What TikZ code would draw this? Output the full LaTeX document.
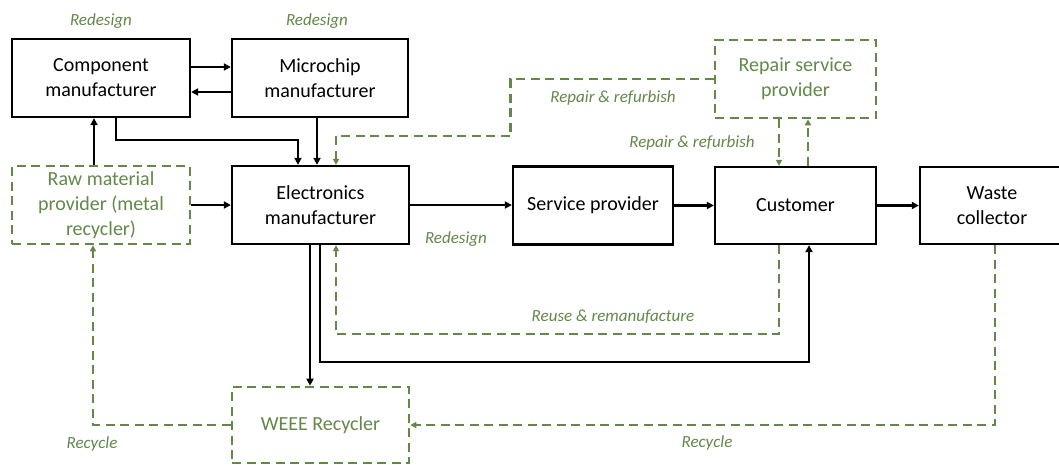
\documentclass[tikz,border=0pt]{standalone}
\usepackage{fontspec}
\setmainfont{Carlito}
\usetikzlibrary{arrows.meta}
\definecolor{loopgreen}{HTML}{638849}
\tikzset{
  actor/.style={draw=black, line width=2.3pt, inner sep=0pt, align=center,
    font=\fontsize{20}{25}\selectfont},
  optactor/.style={draw=loopgreen, text=loopgreen, line width=2.6pt,
    dash pattern=on 9pt off 5.5pt, inner sep=0pt, align=center,
    font=\fontsize{20}{25}\selectfont},
  flow/.style={draw=black, line width=2.1pt,
    -{Triangle[length=7pt,width=7pt]}},
  loop/.style={draw=loopgreen, line width=2.6pt, dash pattern=on 9pt off 5.5pt,
    -{Triangle[length=6pt,width=6pt]}},
  looplabel/.style={text=loopgreen, font=\fontsize{17}{20}\selectfont\itshape,
    inner sep=0pt}
}
\begin{document}
\begin{tikzpicture}[x=1pt,y=-1pt]
\useasboundingbox (0,0) rectangle (1059,464);
\fill[white] (0,0) rectangle (1059,464);

% actors of the supply chain
\node[actor, minimum width=178pt, minimum height=78pt] (comp) at (101,78) {Component\\manufacturer};
\node[actor, minimum width=176pt, minimum height=78pt] (micro) at (320,78) {Microchip\\manufacturer};
\node[optactor, minimum width=178pt, minimum height=78pt] (raw) at (101,205) {Raw material\\provider (metal\\recycler)};
\node[actor, minimum width=177pt, minimum height=78pt] (elec) at (320.5,205) {Electronics\\manufacturer};
\node[actor, minimum width=160pt, minimum height=78pt] (serv) at (593,205.5) {Service provider};
\node[actor, minimum width=161pt, minimum height=77pt] (cust) at (795.5,205.5) {Customer};
\node[actor, minimum width=144pt, minimum height=77pt] (waste) at (992,205.5) {Waste\\collector};
\node[optactor, minimum width=161pt, minimum height=78pt] (rsp) at (795.5,79) {Repair service\\provider};
\node[optactor, minimum width=177pt, minimum height=76pt] (weee) at (320.5,425) {WEEE Recycler};

% forward flows
\draw[flow] ([yshift=11pt]comp.east) -- ([yshift=11pt]micro.west);
\draw[flow] ([yshift=-14pt]micro.west) -- ([yshift=-14pt]comp.east);
\draw[flow] ([xshift=-7pt]raw.north) -- ([xshift=-7pt]comp.south);
\draw[flow] ([xshift=15pt]comp.south) |- ([xshift=-22.5pt,yshift=25pt]elec.north) -- ([xshift=-22.5pt]elec.north);
\draw[flow] ([xshift=-3pt]micro.south) -- ([xshift=-3pt]micro.south |- elec.north);
\draw[flow] (raw.east) -- (raw.east -| elec.west);
\draw[flow] (elec.east) -- (elec.east -| serv.west);
\draw[flow] (serv.east) -- (serv.east -| cust.west);
\draw[flow] (cust.east) -- (cust.east -| waste.west);
\draw[flow] ([xshift=-10.5pt]elec.south) -- ([xshift=-10.5pt]elec.south |- weee.north);
\draw[flow] ([xshift=-0.5pt]elec.south) -- ++(0,117) -| ([xshift=13.5pt]cust.south);

% circular loops
\draw[loop] (rsp.west) -- ++(-203,0) -- ++(0,57) -| ([xshift=15.5pt]elec.north);
\draw[loop] ([xshift=-16.5pt]rsp.south) -- ([xshift=-16.5pt]cust.north);
\draw[loop] ([xshift=12.5pt]cust.north) -- ([xshift=12.5pt]rsp.south);
\draw[loop] ([xshift=-16.5pt]cust.south) -- ++(0,89) -| ([xshift=15.5pt]elec.south);
\draw[loop] ([xshift=3pt]waste.south) |- (weee.east);
\draw[loop] (weee.west) -| ([xshift=-8pt]raw.south);

% loop labels
\node[looplabel] (l1) at (101,21) {Redesign};
\node[looplabel] (l2) at (317,21) {Redesign};
\node[looplabel] (l3) at (456,239) {Redesign};
\node[looplabel] (l4) at (613,98) {Repair \& refurbish};
\node[looplabel] (l5) at (692,143) {Repair \& refurbish};
\node[looplabel] (l6) at (613,317) {Reuse \& remanufacture};
\node[looplabel] (l7) at (92,444) {Recycle};
\node[looplabel] (l8) at (707,443) {Recycle};
\end{tikzpicture}
\end{document}
